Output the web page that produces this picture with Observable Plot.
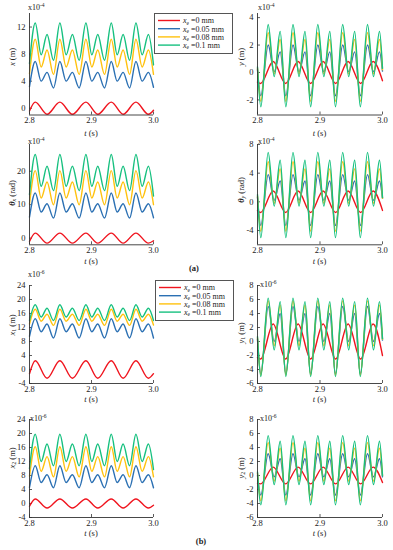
<!DOCTYPE html>
<html><head><meta charset="utf-8">
<script src="https://cdn.jsdelivr.net/npm/d3@7"></script>
<script src="https://cdn.jsdelivr.net/npm/@observablehq/plot@0.6"></script>
<style>
body{margin:0;background:#fff;}
#c{position:relative;width:393px;height:550px;font-family:"Liberation Serif",serif;color:#222;overflow:hidden;background:#fff;}
.a{position:absolute;white-space:nowrap;line-height:1;}
.ex{font-size:8px;}
.yl{font-size:8.5px;transform:translate(-50%,-50%) rotate(-90deg);}
.xl{font-size:8.5px;transform:translate(-50%,-50%);}
sub{font-size:6px;vertical-align:-1px;line-height:0;}
sup{font-size:5.5px;vertical-align:3px;line-height:0;}
</style></head><body><div id="c"></div><script>
// ---- data ----
const seriesNames = ["=0 mm", "=0.05 mm", "=0.08 mm", "=0.1 mm"];
const colors = ["#f0141e", "#2b70b3", "#ffc20e", "#16c07f"];
const xTicks = [2.8, 2.9, 3.0];

// time of extrema, left panels (x, θx, x1, x2)
const tL = [2.8, 2.8093, 2.8188, 2.8283, 2.8387, 2.849, 2.8591, 2.8692, 2.8801, 2.891, 2.9005, 2.9101, 2.921, 2.9319, 2.9414, 2.951, 2.9614, 2.9717, 2.9817, 2.9918, 3.0];
const tLr = [2.8, 2.8093, 2.8283, 2.849, 2.8692, 2.891, 2.9101, 2.9319, 2.951, 2.9717, 2.9918, 3.0];
// time of extrema, right panels (y, θy, y1, y2)
const tR = [2.8, 2.8053, 2.8171, 2.8267, 2.8363, 2.8453, 2.8568, 2.8664, 2.876, 2.885, 2.8965, 2.9061, 2.9157, 2.9247, 2.9363, 2.9459, 2.9555, 2.9645, 2.976, 2.9856, 2.9952, 3.0];
const tRr = [2.8, 2.805, 2.8251, 2.845, 2.865, 2.885, 2.905, 2.925, 2.945, 2.965, 2.985, 3.0];

// (a) x (m) x1e-4
const x_red = [-0.4, 0.9, -0.9, 0.9, -0.9, 0.9, -0.9, 0.9, -0.9, 0.9, -0.9, -0.3];
const x_blue = [3.2, 6.9, 4.0, 5.3, 3.0, 6.9, 4.0, 5.3, 3.0, 6.9, 4.0, 5.3, 3.0, 6.9, 4.0, 5.3, 3.0, 6.9, 4.0, 5.3, 3.1];
const x_yellow = [5.1, 10.2, 6.1, 8.6, 5.0, 10.2, 6.1, 8.6, 5.0, 10.2, 6.1, 8.6, 5.0, 10.2, 6.1, 8.6, 5.0, 10.2, 6.1, 8.6, 5.0];
const x_green = [6.6, 12.6, 7.9, 10.9, 7.1, 12.6, 7.9, 10.9, 7.1, 12.6, 7.9, 10.9, 7.1, 12.6, 7.9, 10.9, 7.1, 12.6, 7.9, 10.9, 6.4];
// (a) y (m) x1e-4
const y_red = [-0.7, -0.8, 0.8, -0.8, 0.8, -0.8, 0.8, -0.8, 0.8, -0.8, 0.8, -0.6];
const y_blue = [0.2, -1.7, 2.0, 0.05, 1.5, -1.7, 2.0, 0.05, 1.5, -1.7, 2.0, 0.05, 1.5, -1.7, 2.0, 0.05, 1.5, -1.7, 2.0, 0.05, 1.5, 0.1];
const y_yellow = [0.3, -2.1, 2.9, -0.1, 2.4, -2.1, 2.9, -0.1, 2.4, -2.1, 2.9, -0.1, 2.4, -2.1, 2.9, -0.1, 2.4, -2.1, 2.9, -0.1, 2.4, 0.2];
const y_green = [0.4, -2.5, 3.5, -0.3, 3.0, -2.5, 3.5, -0.3, 3.0, -2.5, 3.5, -0.3, 3.0, -2.5, 3.5, -0.3, 3.0, -2.5, 3.5, -0.3, 3.0, 0.3];
// (a) θx (rad) x1e-4
const tx_red = [-1.0, 1.5, -1.5, 1.5, -1.5, 1.5, -1.5, 1.5, -1.5, 1.5, -1.5, -0.8];
const tx_blue = [6.3, 13.5, 7.8, 10.3, 6.0, 13.5, 7.8, 10.3, 6.0, 13.5, 7.8, 10.3, 6.0, 13.5, 7.8, 10.3, 6.0, 13.5, 7.8, 10.3, 6.1];
const tx_yellow = [10.2, 20.2, 12.0, 16.8, 10.0, 20.2, 12.0, 16.8, 10.0, 20.2, 12.0, 16.8, 10.0, 20.2, 12.0, 16.8, 10.0, 20.2, 12.0, 16.8, 10.0];
const tx_green = [13.0, 25.0, 15.5, 21.5, 14.2, 25.0, 15.5, 21.5, 14.2, 25.0, 15.5, 21.5, 14.2, 25.0, 15.5, 21.5, 14.2, 25.0, 15.5, 21.5, 12.6];
// (a) θy (rad) x1e-4
const ty_red = [-1.2, -1.5, 1.5, -1.5, 1.5, -1.5, 1.5, -1.5, 1.5, -1.5, 1.5, -1.2];
const ty_blue = [0.6, -3.3, 3.8, 0.2, 2.9, -3.3, 3.8, 0.2, 2.9, -3.3, 3.8, 0.2, 2.9, -3.3, 3.8, 0.2, 2.9, -3.3, 3.8, 0.2, 2.9, 0.5];
const ty_yellow = [0.8, -4.1, 5.6, -0.2, 4.6, -4.1, 5.6, -0.2, 4.6, -4.1, 5.6, -0.2, 4.6, -4.1, 5.6, -0.2, 4.6, -4.1, 5.6, -0.2, 4.6, 0.5];
const ty_green = [1.0, -5.0, 6.9, -0.6, 5.8, -5.0, 6.9, -0.6, 5.8, -5.0, 6.9, -0.6, 5.8, -5.0, 6.9, -0.6, 5.8, -5.0, 6.9, -0.6, 5.8, 0.6];
// (b) x1 (m) x1e-6
const x1_red = [-1.2, 2.5, -2.5, 2.5, -2.5, 2.5, -2.5, 2.5, -2.5, 2.5, -2.5, -1.2];
const x1_blue = [9.5, 14.5, 10.8, 13.0, 9.0, 14.5, 10.8, 13.0, 9.0, 14.5, 10.8, 13.0, 9.0, 14.5, 10.8, 13.0, 9.0, 14.5, 10.8, 13.0, 9.0];
const x1_yellow = [13.0, 17.2, 13.8, 15.8, 12.6, 17.2, 13.8, 15.8, 12.6, 17.2, 13.8, 15.8, 12.6, 17.2, 13.8, 15.8, 12.6, 17.2, 13.8, 15.8, 12.7];
const x1_green = [14.0, 18.5, 15.0, 17.5, 14.0, 18.5, 15.0, 17.5, 14.0, 18.5, 15.0, 17.5, 14.0, 18.5, 15.0, 17.5, 14.0, 18.5, 15.0, 17.5, 14.0];
// (b) y1 (m) x1e-6
const y1_red = [-2.3, -2.5, 2.5, -2.5, 2.5, -2.5, 2.5, -2.5, 2.5, -2.5, 2.5, -2.0];
const y1_blue = [0.3, -4.6, 5.0, 0.0, 4.0, -4.6, 5.0, 0.0, 4.0, -4.6, 5.0, 0.0, 4.0, -4.6, 5.0, 0.0, 4.0, -4.6, 5.0, 0.0, 4.0, 0.2];
const y1_yellow = [0.5, -4.8, 5.8, -0.6, 5.2, -4.8, 5.8, -0.6, 5.2, -4.8, 5.8, -0.6, 5.2, -4.8, 5.8, -0.6, 5.2, -4.8, 5.8, -0.6, 5.2, 0.3];
const y1_green = [0.7, -5.0, 6.2, -1.2, 5.7, -5.0, 6.2, -1.2, 5.7, -5.0, 6.2, -1.2, 5.7, -5.0, 6.2, -1.2, 5.7, -5.0, 6.2, -1.2, 5.7, 0.4];
// (b) x2 (m) x1e-6
const x2_red = [-0.8, 1.3, -1.3, 1.3, -1.3, 1.3, -1.3, 1.3, -1.3, 1.3, -1.3, -0.5];
const x2_blue = [4.6, 10.8, 6.0, 8.2, 4.5, 10.8, 6.0, 8.2, 4.5, 10.8, 6.0, 8.2, 4.5, 10.8, 6.0, 8.2, 4.5, 10.8, 6.0, 8.2, 4.5];
const x2_yellow = [7.8, 16.2, 9.2, 13.4, 7.6, 16.2, 9.2, 13.4, 7.6, 16.2, 9.2, 13.4, 7.6, 16.2, 9.2, 13.4, 7.6, 16.2, 9.2, 13.4, 7.6];
const x2_green = [10.0, 19.8, 12.0, 17.0, 10.8, 19.8, 12.0, 17.0, 10.8, 19.8, 12.0, 17.0, 10.8, 19.8, 12.0, 17.0, 10.8, 19.8, 12.0, 17.0, 9.7];
// (b) y2 (m) x1e-6
const y2_red = [-1.1, -1.2, 1.2, -1.2, 1.2, -1.2, 1.2, -1.2, 1.2, -1.2, 1.2, -1.0];
const y2_blue = [0.0, -2.8, 3.1, -0.2, 2.4, -2.8, 3.1, -0.2, 2.4, -2.8, 3.1, -0.2, 2.4, -2.8, 3.1, -0.2, 2.4, -2.8, 3.1, -0.2, 2.4, -0.2];
const y2_yellow = [0.3, -3.6, 4.7, -0.8, 3.9, -3.6, 4.7, -0.8, 3.9, -3.6, 4.7, -0.8, 3.9, -3.6, 4.7, -0.8, 3.9, -3.6, 4.7, -0.8, 3.9, 0.0];
const y2_green = [0.5, -4.2, 5.7, -1.3, 4.9, -4.2, 5.7, -1.3, 4.9, -4.2, 5.7, -1.3, 4.9, -4.2, 5.7, -1.3, 4.9, -4.2, 5.7, -1.3, 4.9, 0.0];

// ---- layout ----
const cols = [[29, 153], [257, 382]];
const rows = [[12.5, 114], [144, 244.3], [285, 383], [419, 517]];
const panels = [
  {c:0, r:0, t:tL, tr:tLr, dom:[-1,14], ticks:[0,4,8,12], s:[x_red,x_blue,x_yellow,x_green], exp:"-4", ex:[28,4], lab:'<i>x</i> (m)', ly:57},
  {c:1, r:0, t:tR, tr:tRr, dom:[-3.1,4.3], ticks:[-2,0,2,4], s:[y_red,y_blue,y_yellow,y_green], exp:"-4", ex:[258,4], lab:'<i>y</i> (m)', ly:57},
  {c:0, r:1, t:tL, tr:tLr, dom:[-2,28], ticks:[0,10,20], s:[tx_red,tx_blue,tx_yellow,tx_green], exp:"-4", ex:[28,137.5], lab:'<b><i>θ</i></b><sub><i>x</i></sub> (rad)', ly:193},
  {c:1, r:1, t:tR, tr:tRr, dom:[-6,8], ticks:[-4,0,4,8], s:[ty_red,ty_blue,ty_yellow,ty_green], exp:"-4", ex:[258,137.5], lab:'<b><i>θ</i></b><sub><i>y</i></sub> (rad)', ly:190},
  {c:0, r:2, t:tL, tr:tLr, dom:[-4,24], ticks:[-4,0,4,8,12,16,20,24], s:[x1_red,x1_blue,x1_yellow,x1_green], exp:"-6", ex:[28,271], lab:'<i>x</i><sub>1</sub> (m)', ly:325},
  {c:1, r:2, t:tR, tr:tRr, dom:[-6,8], ticks:[-6,-4,-2,0,2,4,6,8], s:[y1_red,y1_blue,y1_yellow,y1_green], exp:"-6", ex:[260,281], lab:'<i>y</i><sub>1</sub> (m)', ly:333},
  {c:0, r:3, t:tL, tr:tLr, dom:[-4,24], ticks:[-4,0,4,8,12,16,20,24], s:[x2_red,x2_blue,x2_yellow,x2_green], exp:"-6", ex:[30,415], lab:'<i>x</i><sub>2</sub> (m)', ly:458},
  {c:1, r:3, t:tR, tr:tRr, dom:[-6,8], ticks:[-6,-4,-2,0,2,4,6,8], s:[y2_red,y2_blue,y2_yellow,y2_green], exp:"-6", ex:[260,415], lab:'<i>y</i><sub>2</sub> (m)', ly:468}
];
const tLabelY = [132.5, 260.5, 398.5, 532.5];

const C = document.getElementById("c");
function addDiv(cls, html, x, y) {
  const d = document.createElement("div");
  d.className = "a " + cls;
  d.innerHTML = html;
  d.style.left = x + "px"; d.style.top = y + "px";
  C.appendChild(d); return d;
}

const mL = 30, mR = 4, mT = 3, mB = 16;
for (const p of panels) {
  const [fx0, fx1] = cols[p.c], [fy0, fy1] = rows[p.r];
  const fw = fx1 - fx0, fh = fy1 - fy0;
  const marks = [
    Plot.axisX({ticks: xTicks, tickFormat: d => d.toFixed(1), tickSize: 0, tickPadding: 2, label: null}),
    Plot.axisY({ticks: p.ticks, tickFormat: d => String(d), tickSize: 0, tickPadding: 4, label: null}),
    Plot.tickY(p.ticks, {y: d => d, insetRight: fw - 3, stroke: "#333", strokeWidth: 0.8}),
    Plot.tickX(xTicks, {x: d => d, insetTop: fh - 3, stroke: "#333", strokeWidth: 0.8})
  ];
  p.s.forEach((vals, k) => {
    const tt = k === 0 ? p.tr : p.t;
    marks.push(Plot.line(tt.map((t, i) => ({t, v: vals[i]})), {x: "t", y: "v", stroke: colors[k], strokeWidth: 1.4, curve: "monotone-x"}));
  });
  marks.push(Plot.ruleX([2.8], {stroke: "#333", strokeWidth: 0.9}));
  marks.push(Plot.ruleY([p.dom[0]], {stroke: "#333", strokeWidth: 0.9}));
  const svg = Plot.plot({
    width: mL + fw + mR, height: mT + fh + mB,
    marginLeft: mL, marginRight: mR, marginTop: mT, marginBottom: mB,
    x: {domain: [2.8, 3.0]},
    y: {domain: p.dom},
    style: {fontFamily: '"Liberation Serif", serif', fontSize: "8.5px", color: "#222", background: "transparent", overflow: "visible"},
    marks
  });
  svg.style.position = "absolute";
  svg.style.left = (fx0 - mL) + "px";
  svg.style.top = (fy0 - mT) + "px";
  C.appendChild(svg);
  addDiv("ex", "x10<sup>" + p.exp + "</sup>", p.ex[0], p.ex[1]);
  addDiv("yl", p.lab, p.c === 0 ? 12 : 241, p.ly);
  addDiv("xl", "<i>t</i> (s)", (fx0 + fx1) / 2, tLabelY[p.r]);
}

addDiv("xl", "<b>(a)</b>", 194, 268);
addDiv("xl", "<b>(b)</b>", 201, 541);

// legends (inline SVG)
function legend(x, y) {
  const NS = "http://www.w3.org/2000/svg";
  const s = document.createElementNS(NS, "svg");
  s.setAttribute("width", 79); s.setAttribute("height", 41);
  s.style.position = "absolute"; s.style.left = x + "px"; s.style.top = y + "px";
  let h = '<rect x="0.5" y="0.5" width="78" height="40" fill="#fff" stroke="#555" stroke-width="1"/>';
  seriesNames.forEach((n, k) => {
    const cy = 7.5 + k * 8.2;
    h += '<line x1="4" x2="26" y1="' + cy + '" y2="' + cy + '" stroke="' + colors[k] + '" stroke-width="1.4"/>';
    h += '<text x="29" y="' + (cy + 2.8) + '" font-family="Liberation Serif, serif" font-size="8" fill="#222">' +
         '<tspan font-style="italic">x</tspan><tspan font-size="5.5" dy="1.5">e</tspan><tspan dy="-1.5"> ' + n + '</tspan></text>';
  });
  s.innerHTML = h;
  C.appendChild(s);
}
legend(154, 13);
legend(155, 280);
</script></body></html>
